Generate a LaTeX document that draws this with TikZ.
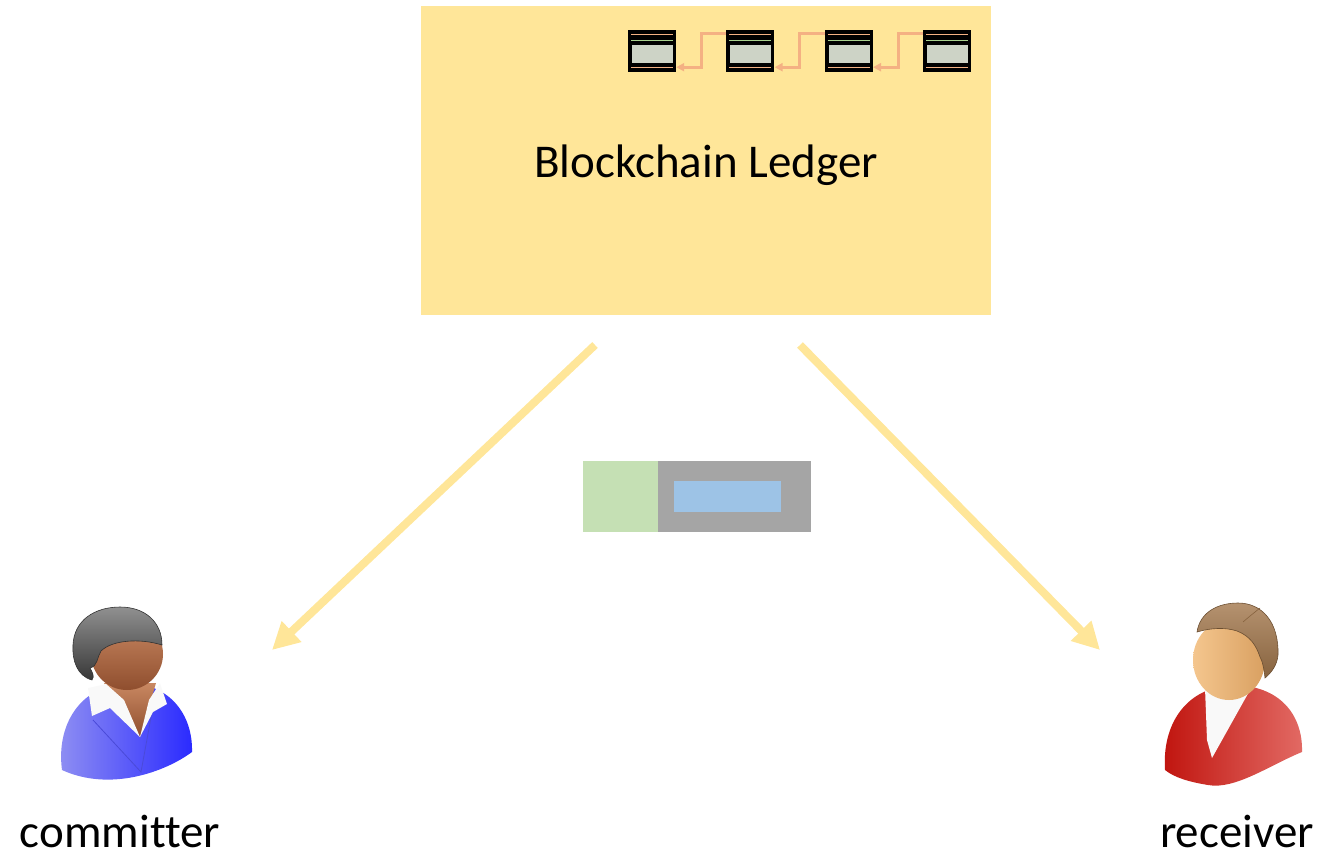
\documentclass[tikz,border=0pt]{standalone}
\usepackage{fontspec}
\setmainfont{Carlito}[Ligatures=NoCommon]
\usetikzlibrary{positioning}
\usetikzlibrary{calc}
\usetikzlibrary{arrows.meta}
\definecolor{ledgeryellow}{HTML}{FFE699}
\definecolor{linksalmon}{HTML}{F4B183}
\definecolor{linegreen}{HTML}{A9D18E}
\definecolor{blockgray}{HTML}{CDD3C6}
\definecolor{headgreen}{HTML}{C5E0B4}
\definecolor{bodygray}{HTML}{A5A5A5}
\definecolor{payloadblue}{HTML}{9DC3E6}
% committer colours
\definecolor{suitlight}{HTML}{9090F2}
\definecolor{suitdark}{HTML}{2A2AFF}
\definecolor{lapelline}{HTML}{4A4AD8}
\definecolor{darkskinA}{HTML}{C98862}
\definecolor{darkskinB}{HTML}{8F4E2E}
\definecolor{grayhairA}{HTML}{909090}
\definecolor{grayhairB}{HTML}{383838}
% receiver colours
\definecolor{redA}{HTML}{C0140E}
\definecolor{redB}{HTML}{E26A64}
\definecolor{skinA}{HTML}{F4C68E}
\definecolor{skinB}{HTML}{D9A061}
\definecolor{brownhairA}{HTML}{B5926F}
\definecolor{brownhairB}{HTML}{87633F}
\tikzset{
    bigtext/.style={
        font=\fontsize{47}{56}\selectfont,
        inner sep=0pt},
    ledger/.style={
        rectangle,
        fill=ledgeryellow,
        minimum width=570pt,
        minimum height=309pt},
    blockicon/.style={
        rectangle,
        fill=black,
        inner sep=0pt,
        minimum width=48pt,
        minimum height=42pt,
        path picture={
            \fill[blockgray] ([shift={(4,15)}]path picture bounding box.north west)
                rectangle ([shift={(45,33)}]path picture bounding box.north west);
            \draw[linksalmon,line width=1pt] ([shift={(3,4)}]path picture bounding box.north west)
                -- ([shift={(45,4)}]path picture bounding box.north west);
            \draw[linegreen,line width=1pt] ([shift={(3,10)}]path picture bounding box.north west)
                -- ([shift={(45,10)}]path picture bounding box.north west);
            \draw[linksalmon,line width=1pt] ([shift={(3,37)}]path picture bounding box.north west)
                -- ([shift={(45,37)}]path picture bounding box.north west);}},
    chainlink/.style={
        draw=linksalmon,
        line width=3pt,
        -{Triangle[length=8pt,width=8pt]}},
    flow/.style={
        draw=ledgeryellow,
        line width=8pt,
        -{Triangle[length=27pt,width=27pt]}},
    part/.style={
        rectangle,
        inner sep=0pt,
        minimum height=71pt}}

\begin{document}
\begin{tikzpicture}[x=1pt,y=-1pt]
    \useasboundingbox (0,0) rectangle (1325,860);

    % ledger with its chain of blocks
    \node[ledger] (ledger) at (706,160.5) {};
    \node[bigtext,anchor=base] (title) at (706,177) {Blockchain Ledger};
    \node[blockicon] (blk1) at (652,51) {};
    \node[blockicon, right=50pt of blk1] (blk2) {};
    \node[blockicon, right=50pt of blk2] (blk3) {};
    \node[blockicon, right=50pt of blk3] (blk4) {};
    \foreach \a/\b in {1/2,2/3,3/4}
        \draw[chainlink] ([yshift=-4pt]blk\b.north west)
            -| ($(blk\a.east)!0.5!(blk\b.west)$) |- ([yshift=5pt]blk\a.south east);

    % transaction in transit
    \node[part, fill=bodygray, minimum width=153pt] (msg) at (734.5,496.5) {};
    \node[part, fill=headgreen, minimum width=75pt, left=0pt of msg] (msghead) {};
    \node[rectangle, inner sep=0pt, fill=payloadblue, minimum width=107pt,
        minimum height=31pt] (payload) at ([xshift=-7pt]msg.center) {};

    % flows out of the ledger
    \coordinate (outC) at (595,345);
    \coordinate (outR) at (800,345);
    \coordinate (inC) at (272,650);
    \coordinate (inR) at (1100,650);
    \draw[flow] (outC) -- (inC);
    \draw[flow] (outR) -- (inR);

    % committer
    \coordinate (committer) at (126,695);
    \shade[left color=suitlight, right color=suitdark] (62,770)
        .. controls (56,725) and (80,686) .. (126,683)
        .. controls (170,683) and (193,715) .. (192,752)
        .. controls (165,772) and (110,792) .. (62,770) -- cycle;
    \draw[lapelline, line width=0.8pt] (93,720) -- (141,772) -- (152,712);
    \shade[top color=darkskinA, bottom color=darkskinB]
        (104,683) -- (156,683) -- (140,737) -- cycle;
    \fill[white!95!gray] (88,688) -- (92,716) -- (110,708) -- (140,737)
        -- (124,700) -- (106,684) -- cycle;
    \fill[white!95!gray] (160,683) -- (167,704) -- (153,712) -- (140,737)
        -- (149,700) -- cycle;
    \shade[top color=darkskinA, bottom color=darkskinB] (127,654) circle (36);
    \shade[top color=grayhairA, bottom color=grayhairB, draw=black!80, line width=0.6pt]
        (92,680) .. controls (77,676) and (72,660) .. (73,645)
        .. controls (74,620) and (95,607) .. (120,607)
        .. controls (145,607) and (162,622) .. (162,645)
        .. controls (140,638) and (112,640) .. (101,651)
        .. controls (97,657) and (98,666) .. (90,668)
        .. controls (92,672) and (95,676) .. (92,680) -- cycle;
    \node[bigtext,anchor=base] (committertext) at (120,847) {committer};

    % receiver
    \coordinate (receiver) at (1233,695);
    \shade[left color=redA, right color=redB] (1165,770)
        .. controls (1162,725) and (1185,688) .. (1232,685)
        .. controls (1280,685) and (1303,715) .. (1302,752)
        .. controls (1270,765) and (1235,790) .. (1208,785)
        .. controls (1190,782) and (1175,778) .. (1165,770) -- cycle;
    \fill[white!95!gray] (1205,688) -- (1250,690) -- (1212,758) -- (1207,740) -- cycle;
    \shade[left color=skinA, right color=skinB] (1229,660) ellipse (36 and 40);
    \shade[top color=brownhairA, bottom color=brownhairB, draw=brownhairB!80!black, line width=0.6pt]
        (1197,632) .. controls (1200,612) and (1218,603) .. (1238,603)
        .. controls (1262,603) and (1279,622) .. (1278,655)
        .. controls (1277,665) and (1272,672) .. (1265,678)
        .. controls (1264,668) and (1262,660) .. (1260,657)
        .. controls (1256,645) and (1250,636) .. (1237,631)
        .. controls (1225,627) and (1210,628) .. (1197,632) -- cycle;
    \draw[brownhairB, line width=0.6pt] (1243,622) .. controls (1250,616) .. (1260,608);
    \node[bigtext,anchor=base] (receivertext) at (1237,847) {receiver};
\end{tikzpicture}
\end{document}
